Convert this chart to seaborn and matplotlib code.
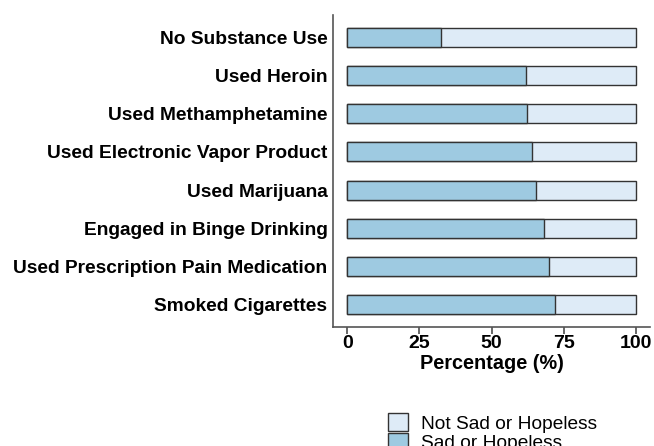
import matplotlib
matplotlib.use("Agg")
import matplotlib.pyplot as plt
from matplotlib.patches import Patch
import pandas as pd
import seaborn as sns

categories = [
    "No Substance Use",
    "Used Heroin",
    "Used Methamphetamine",
    "Used Electronic Vapor Product",
    "Used Marijuana",
    "Engaged in Binge Drinking",
    "Used Prescription Pain Medication",
    "Smoked Cigarettes",
]
sad_pct = [32.5, 61.8, 62.2, 64.2, 65.3, 68.3, 70.1, 72.0]
total_pct = [100] * len(categories)

sad_color = "#9ecae1"
not_sad_color = "#deebf7"
edge = "#333333"

sns.set_theme(style="white")
plt.rcParams["font.family"] = ["Liberation Sans", "DejaVu Sans"]
plt.rcParams["text.color"] = "black"
plt.rcParams["axes.labelcolor"] = "black"
plt.rcParams["xtick.color"] = "black"
plt.rcParams["ytick.color"] = "black"

df = pd.DataFrame({"category": categories, "sad": sad_pct, "total": total_pct})

fig = plt.figure(figsize=(6.54, 4.46), dpi=100)
ax = fig.add_axes([333 / 654, 1 - 327 / 446, (650 - 333) / 654, (327 - 15) / 446])

# full bar first (not sad), then the sad share on top
sns.barplot(data=df, y="category", x="total", color=not_sad_color, width=0.5,
            edgecolor=edge, linewidth=1, saturation=1, orient="h", ax=ax)
sns.barplot(data=df, y="category", x="sad", color=sad_color, width=0.5,
            edgecolor=edge, linewidth=1, saturation=1, orient="h", ax=ax)

ax.set_xlim(-5, 105)
ax.set_ylim(7.6, -0.6)
ax.set_xticks([0, 25, 50, 75, 100])
ax.set_ylabel("")
ax.set_xlabel("Percentage (%)", fontsize=14.3, fontweight="bold", labelpad=1)

for lab in ax.get_yticklabels():
    lab.set_fontweight("bold")
    lab.set_fontsize(13.8)
for lab in ax.get_xticklabels():
    lab.set_fontweight("bold")
    lab.set_fontsize(14)

ax.tick_params(axis="x", bottom=True, length=5, color="#555555", pad=1)
ax.tick_params(axis="y", left=False, length=0, pad=4)

sns.despine(ax=ax, top=True, right=True)
for side in ["left", "bottom"]:
    ax.spines[side].set_color("#555555")
    ax.spines[side].set_linewidth(1.2)

handles = [
    Patch(facecolor=not_sad_color, edgecolor=edge, label="Not Sad or Hopeless"),
    Patch(facecolor=sad_color, edgecolor=edge, label="Sad or Hopeless"),
]
fig.legend(handles=handles, loc="upper left", bbox_to_anchor=(375 / 654, 1 - 400 / 446),
           frameon=False, fontsize=13.8, handlelength=1.0, handleheight=1.0,
           labelspacing=0.0, handletextpad=0.7, borderpad=0.2)

fig.savefig("out.png", dpi=100)
